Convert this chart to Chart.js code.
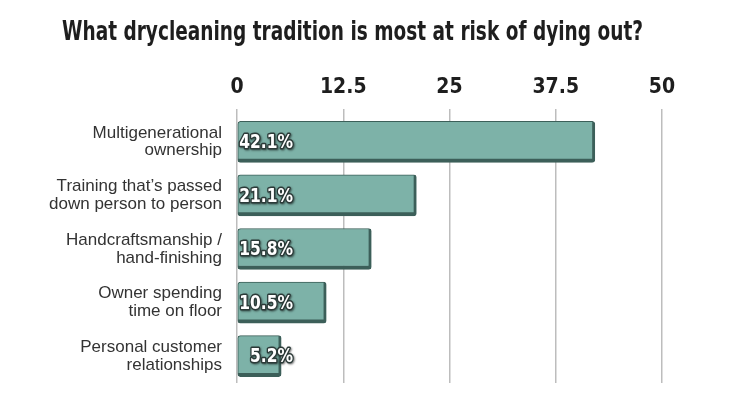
<!DOCTYPE html>
<html>
<head>
<meta charset="utf-8">
<script src="https://cdn.jsdelivr.net/npm/chart.js@4"></script>
<style>
  html, body { margin: 0; padding: 0; background: #fff; }
  #wrap { width: 730px; height: 417px; }
</style>
</head>
<body>
<div id="wrap"><canvas id="bar-chart" width="730" height="417"></canvas></div>
<script>
const titolo = "What drycleaning tradition is most at risk of dying out?",
  categorie = [
    ["Multigenerational", "ownership"],
    ["Training that\u2019s passed", "down person to person"],
    ["Handcraftsmanship /", "hand-finishing"],
    ["Owner spending", "time on floor"],
    ["Personal customer", "relationships"],
  ],
  valori = [42.1, 21.1, 15.8, 10.5, 5.2],
  tickValori = [0, 12.5, 25, 37.5, 50];

const fontGrassetta = "'DejaVu Sans Condensed', 'DejaVu Sans', sans-serif";

// titolo disegnato a mano, compresso in orizzontale come un carattere condensato
const titoloPlugin = {
  id: "titoloPlugin",
  afterDraw(chart) {
    const ctx = chart.ctx,
      larghezza = 581,
      centro = 352.5;
    ctx.save();
    ctx.font = "bold 26px " + fontGrassetta;
    ctx.fillStyle = "#1e1e1e";
    ctx.textAlign = "center";
    ctx.textBaseline = "middle";
    const w = ctx.measureText(titolo).width,
      k = Math.min(1, larghezza / w);
    ctx.translate(centro, 33);
    ctx.scale(k, 1);
    ctx.fillText(titolo, 0, 0);
    ctx.restore();
  },
};

// etichette percentuali dentro le barre, allineate a destra
const etichette = {
  id: "etichette",
  afterDatasetsDraw(chart) {
    const ctx = chart.ctx,
      meta = chart.getDatasetMeta(0),
      xFine = chart.chartArea.left + 56;
    ctx.save();
    ctx.font = "bold 20px " + fontGrassetta;
    ctx.textAlign = "right";
    ctx.textBaseline = "middle";
    meta.data.forEach((bar, i) => {
      const testo = valori[i].toFixed(1) + "%";
      ctx.save();
      ctx.translate(xFine, bar.y + 1);
      ctx.scale(0.86, 1);
      ctx.lineJoin = "round";
      ctx.lineWidth = 3;
      ctx.strokeStyle = "#2b3a38";
      ctx.shadowColor = "rgba(0,0,0,0.5)";
      ctx.shadowOffsetX = 1;
      ctx.shadowOffsetY = 1;
      ctx.shadowBlur = 2;
      ctx.strokeText(testo, 0, 0);
      ctx.shadowColor = "transparent";
      ctx.fillStyle = "#ffffff";
      ctx.fillText(testo, 0, 0);
      ctx.restore();
    });
    ctx.restore();
  },
};

// sfumatura verticale per ogni barra
function coloreBarra(context) {
  const el = context.element;
  if (!el || el.height === undefined) return "#7db2a8";
  const c = context.chart.ctx,
    h = el.height,
    top = el.y - h / 2,
    g = c.createLinearGradient(0, top, 0, top + h);
  g.addColorStop(0, "#9ccbc1");
  g.addColorStop(0.5, "#7db2a8");
  g.addColorStop(1, "#5f9389");
  return g;
}

const config = {
  type: "bar",
  data: {
    labels: categorie,
    datasets: [
      {
        data: valori,
        backgroundColor: coloreBarra,
        borderColor: "#3c5f59",
        borderWidth: { top: 1, left: 1, right: 3, bottom: 4 },
        borderSkipped: false,
        borderRadius: 3,
        barThickness: 41,
      },
    ],
  },
  options: {
    indexAxis: "y",
    responsive: false,
    animation: false,
    layout: { padding: { left: 0, right: 68, top: 46, bottom: 34 } },
    plugins: {
      legend: { display: false },
      tooltip: { enabled: false },
      title: { display: false },
    },
    scales: {
      x: {
        position: "top",
        min: 0,
        max: 50,
        afterBuildTicks(scale) {
          scale.ticks = tickValori.map((v) => ({ value: v }));
        },
        afterFit(scale) {
          scale.height = 69;
        },
        ticks: {
          color: "#1e1e1e",
          padding: 9,
          font: { family: fontGrassetta, size: 21, weight: "bold" },
        },
        grid: { color: "#bdbdbd", lineWidth: 1.5, tickLength: 6 },
        border: { display: false },
      },
      y: {
        afterFit(scale) {
          scale.width = 237;
        },
        ticks: {
          color: "#333333",
          padding: 7,
          font: { family: "'Liberation Sans', Arial, sans-serif", size: 17, lineHeight: 1.05 },
        },
        grid: { display: false },
        border: { display: false },
      },
    },
  },
  plugins: [titoloPlugin, etichette],
};

const ctx = document.getElementById("bar-chart").getContext("2d");
new Chart(ctx, config);
</script>
</body>
</html>
